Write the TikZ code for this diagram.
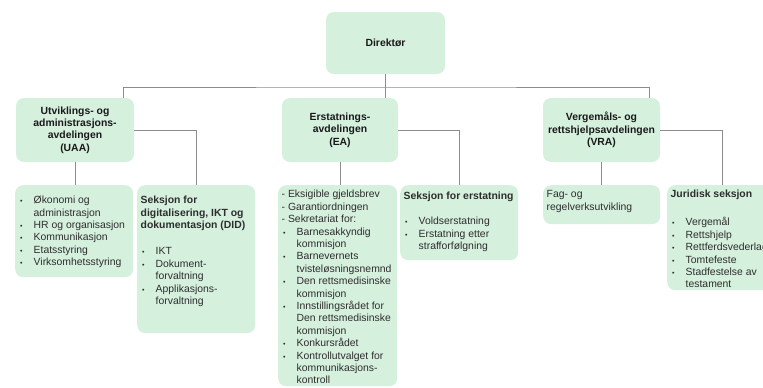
\documentclass[tikz,border=0pt]{standalone}
\usepackage{fontspec}
\setmainfont{Liberation Sans}

\definecolor{mint}{RGB}{214,240,222}
\definecolor{wire}{RGB}{140,140,140}
\definecolor{ink}{RGB}{45,45,45}

\newcommand{\orgsize}{\fontsize{10.4}{12.4}\selectfont}
\newcommand{\bul}{\par\hangindent=15pt\hangafter=1\noindent\strut\makebox[15pt][l]{\hspace{1.5pt}{\fontsize{7}{7}\selectfont\textbullet}}}

\begin{document}
\begin{tikzpicture}[x=1pt, y=-1pt,
        unit/.style={fill=mint, rounded corners=8pt, minimum width=118pt, minimum height=64pt, align=center, font=\orgsize\bfseries, text=black!90},
        sect/.style={fill=mint, rounded corners=8pt, anchor=north west, inner xsep=3.5pt, inner ysep=0pt, font=\orgsize, text=ink},
        link/.style={draw=wire, line width=0.8pt}]
            % the frame
            \useasboundingbox (0,0) rectangle (763,388);
            \path[clip] (0,0) rectangle (763,388);

            % top and departments
            \node[unit, minimum width=119pt, minimum height=62pt] (dir) at (385.5,43) {Direktør};
            \node[unit] (uaa) at (75,130) {Utviklings- og\\administrasjons-\\avdelingen\\(UAA)};
            \node[unit, minimum width=116pt] (ea) at (340,130) {Erstatnings-\\avdelingen\\(EA)};
            \node[unit, minimum width=117pt] (vra) at (601.5,130) {Vergemåls- og\\rettshjelpsavdelingen\\(VRA)};

            % sections
            \node[sect] (okad) at (15,185) {\parbox[c][92pt][t]{111pt}{\raggedright\vspace*{9.8pt}%
                \bul Økonomi og\newline administrasjon
                \bul HR og organisasjon
                \bul Kommunikasjon
                \bul Etatsstyring
                \bul Virksomhetsstyring}};
            \node[sect] (did) at (137,185) {\parbox[c][148pt][t]{111pt}{\raggedright\vspace*{9.8pt}%
                {\bfseries\strut Seksjon for\\digitalisering, IKT og\\dokumentasjon (DID)\par}\vspace{14pt}%
                \bul IKT
                \bul Dokument-\newline forvaltning
                \bul Applikasjons-\newline forvaltning}};
            \node[sect] (sekr) at (278,185) {\parbox[c][201pt][t]{112pt}{\raggedright\vspace*{4.1pt}%
                \strut- Eksigible gjeldsbrev\\
                - Garantiordningen\\
                - Sekretariat for:
                \bul Barnesakkyndig\newline kommisjon
                \bul Barnevernets\newline tvisteløsningsnemnd
                \bul Den rettsmedisinske\newline kommisjon
                \bul Innstillingsrådet for\newline Den rettsmedisinske\newline kommisjon
                \bul Konkursrådet
                \bul Kontrollutvalget for\newline kommunikasjons-\newline kontroll}};
            \node[sect] (erst) at (400,185) {\parbox[c][75pt][t]{111pt}{\raggedright\vspace*{6.1pt}%
                {\bfseries\strut Seksjon for erstatning\par}\vspace{12.6pt}%
                \bul Voldserstatning
                \bul Erstatning etter\newline strafforfølgning}};
            \node[sect] (fag) at (543,185) {\parbox[c][39pt][t]{110pt}{\raggedright\vspace*{4.1pt}%
                \strut Fag- og\\regelverksutvikling}};
            \node[sect] (jur) at (667,185) {\parbox[c][105pt][t]{103pt}{\raggedright\vspace*{4.1pt}%
                {\bfseries\strut Juridisk seksjon\par}\vspace{15.6pt}%
                \bul Vergemål
                \bul Rettshjelp
                \bul Rettferdsvederlag
                \bul Tomtefeste
                \bul Stadfestelse av\newline testament}};

            % connectors
            \coordinate (bus) at (386,87);
            \draw[link] (dir.south) -- (dir.south |- ea.north);
            \draw[link] ([xshift=-11pt]uaa.north east) |- (bus) -| ([xshift=-11pt]vra.north east);
            \foreach \a/\b in {uaa/okad, ea/sekr, vra/fag} {
                \draw[link] (\a.south) -- (\a.south |- \b.north);
            };
            \foreach \a/\b in {uaa/did, ea/erst, vra/jur} {
                \draw[link] (\a.east) -| (\b.north);
            };

        \end{tikzpicture}
\end{document}
